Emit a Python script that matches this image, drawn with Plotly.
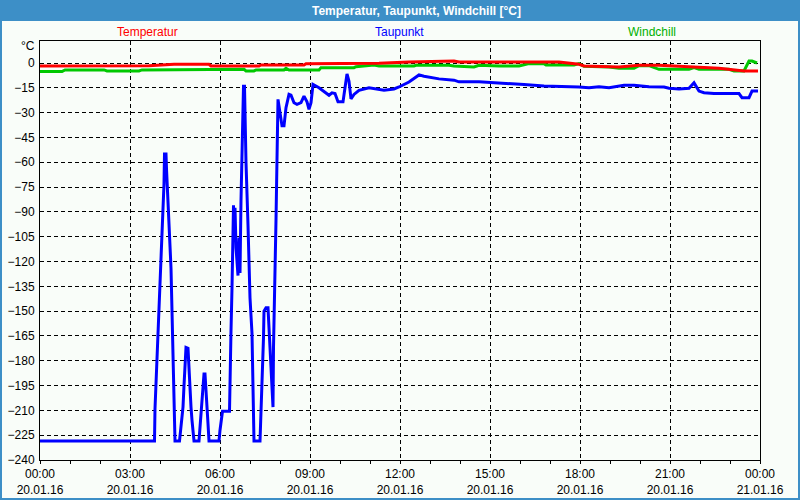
import pandas as pd
import plotly.graph_objects as go

# ---- data (minutes after 20.01.16 00:00, °C) ----
tau_min = [0, 229, 230, 234, 238, 241, 244, 246, 248, 249, 252, 253, 256, 258, 262, 264, 266, 268, 270,
           279, 282, 284, 286, 288, 290, 292, 296, 298, 300, 302, 304, 306, 308,
           318, 320, 322, 324, 326, 328, 330, 332, 334, 336, 338,
           358, 360, 362, 365, 379, 380, 382, 384, 386, 387, 388, 390, 392, 394, 396, 398, 400, 402, 404, 406, 407, 409,
           410, 412, 416, 420, 424, 426, 428,
           440, 442, 444, 446, 447, 448, 452, 456, 458, 460, 462, 464, 466, 467, 470, 472, 474, 476,
           480, 484, 488, 492, 498, 502, 508, 514, 522, 528, 534, 538, 542, 546, 558, 568, 578, 584, 590, 596, 606,
           610, 614, 618, 622, 628, 638, 658, 678, 688, 708, 718, 738, 758, 768, 798, 828, 838, 878, 918, 968,
           1008, 1038, 1078, 1098, 1118, 1138, 1168, 1188, 1218, 1248, 1258, 1278, 1298, 1308, 1318, 1328, 1348,
           1398, 1404, 1418, 1424, 1436]
tau_val = [-228.5, -228.5, -209, -178, -152.6, -127, -101, -82, -73, -55, -55, -64, -82, -98, -124, -150, -178, -202, -228.5,
           -228.5, -220, -214, -208, -195, -186, -172, -172.5, -186, -196, -208, -216, -222, -228.5,
           -228.5, -220, -212, -204, -196, -188, -188, -196, -208, -218, -228.5,
           -228.5, -222, -216, -210.5, -210.5, -186, -162, -136, -111.6, -86, -103, -87.5, -111.6, -119, -128.5, -105.5, -127, -83, -59, -37, -14, -14,
           -36, -60, -98, -142, -163.5, -205.6, -228.5,
           -228.5, -213, -198, -181.5, -166, -150, -148, -148, -160, -172, -184, -196, -208, -172, -133, -95, -58, -22,
           -30, -38, -38, -27, -19, -19.5, -24, -25, -24, -20, -23.5, -28, -24, -13, -15, -17, -19.5, -18, -18.5, -23.5, -23.5,
           -15, -6.6, -11, -21.7, -19, -16.5, -15, -15.7, -16.5, -15.7, -14.5, -11.5, -7.2, -8, -9.6, -10.4, -11.4, -11.4, -12, -13,
           -13.9, -14, -14.5, -14.9, -14.3, -14.9, -13.5, -13.5, -14.3, -14.5, -15.3, -15.7, -15.3, -12, -17, -18, -18.5,
           -18.5, -21, -21, -17, -17]

temp_min = [0, 218, 268, 338, 342, 438, 442, 528, 532, 678, 738, 828, 838, 1038, 1078, 1088, 1158, 1198, 1238,
            1298, 1358, 1408, 1436]
temp_val = [-1.8, -1.6, -0.8, -0.8, -1.8, -1.8, -1.2, -1.2, -0.4, -0.2, 0.6, 1.2, 0.6, 0.6, -0.8, -1.8, -2.4, -1.4, -1.4,
            -2.2, -3.2, -4.8, -4.8]

wind_min = [0, 44, 50, 128, 134, 198, 204, 368, 374, 408, 412, 428, 432, 488, 492, 498, 558, 562, 628, 632,
            668, 678, 748, 752, 818, 828, 868, 878, 918, 958, 978, 1008, 1012, 1068, 1078, 1088, 1138, 1158, 1188, 1198,
            1218, 1228, 1238, 1298, 1308, 1318, 1378, 1388, 1408, 1418, 1424, 1434]
wind_val = [-5.2, -5.2, -4.2, -4.2, -4.8, -4.8, -4.2, -4.2, -3.8, -3.8, -4.8, -4.8, -4.2, -4.2, -3.2, -4.2, -4.2, -2.8, -2.8, -2.2,
            -1.2, -1.8, -1.8, -1.4, -1.4, -1.8, -2.4, -1.4, -1.8, -1.8, -0.4, -0.4, -1.2, -1.2, -0.4, -2, -2.4, -3.2, -3.2, -1.6,
            -1.6, -2.8, -3.8, -3.8, -2.8, -3.8, -3.8, -4.8, -4.8, 1.2, 1.2, 0]

tick_hours = [0, 3, 6, 9, 12, 15, 18, 21, 24]
tick_labels = ["00:00<br>20.01.16", "03:00<br>20.01.16", "06:00<br>20.01.16", "09:00<br>20.01.16",
               "12:00<br>20.01.16", "15:00<br>20.01.16", "18:00<br>20.01.16", "21:00<br>20.01.16",
               "00:00<br>21.01.16"]
series_names = ["Temperatur", "Taupunkt", "Windchill"]
title_text = "Temperatur, Taupunkt, Windchill [°C]"

assert len(tau_min) == len(tau_val)
assert len(temp_min) == len(temp_val)
assert len(wind_min) == len(wind_val)

base = pd.Timestamp("2016-01-20 00:00")
def tt(m):
    return base + pd.to_timedelta(m, unit="m")

RED, BLUE, GREEN = "#FF0000", "#0000FF", "#00C800"
BAR = "#3D8FC7"
BG = "#F9FDF9"
FONT = "Liberation Sans"

fig = go.Figure()
fig.add_trace(go.Scatter(x=tt(tau_min), y=tau_val, mode="lines", line=dict(color=BLUE, width=3), name=series_names[1]))
fig.add_trace(go.Scatter(x=tt(wind_min), y=wind_val, mode="lines", line=dict(color=GREEN, width=3), name=series_names[2]))
fig.add_trace(go.Scatter(x=tt(temp_min), y=temp_val, mode="lines", line=dict(color=RED, width=3), name=series_names[0]))

L, R, T, B = 40, 40, 41, 40
W, H = 800, 500
pw, ph = W - L - R, H - T - B
def px(x):  # pixel -> paper x
    return (x - L) / pw
def py(y):  # pixel -> paper y
    return (H - B - y) / ph

fig.update_layout(
    width=W, height=H,
    margin=dict(l=L, r=R, t=T, b=B, autoexpand=False),
    paper_bgcolor=BG, plot_bgcolor=BG,
    showlegend=False,
    font=dict(family=FONT, size=11, color="black"),
    xaxis=dict(
        range=[base, tt(1440)],
        automargin=False,
        tickmode="array",
        tickvals=[tt(h * 60) for h in tick_hours],
        ticktext=tick_labels,
        ticks="outside", ticklen=3, tickcolor="black",
        showgrid=True, gridcolor="black", gridwidth=1, griddash="4px,3px",
        showline=True, linecolor="black", linewidth=1, mirror=True,
        zeroline=False,
        minor=dict(dtick=3600000, ticks="outside", ticklen=3, tickcolor="black", showgrid=False),
        tickfont=dict(size=12),
    ),
    yaxis=dict(
        range=[-240, 13.3],
        automargin=False,
        tickmode="linear", tick0=0, dtick=15,
        ticks="",
        showgrid=True, gridcolor="black", gridwidth=1, griddash="4px,3px",
        showline=True, linecolor="black", linewidth=1, mirror=True,
        zeroline=False,
        ticklabelstandoff=2,
        tickfont=dict(size=12),
    ),
    shapes=[
        dict(type="rect", xref="paper", yref="paper", x0=px(-2), x1=px(802), y0=py(21), y1=py(-2),
             fillcolor=BAR, line=dict(width=0), layer="above"),
        dict(type="rect", xref="paper", yref="paper", x0=px(1), x1=px(799), y0=py(499), y1=py(1),
             fillcolor="rgba(0,0,0,0)", line=dict(color=BAR, width=2), layer="above"),
    ],
    annotations=[
        dict(text="<b>" + title_text + "</b>", x=px(416), y=py(10.5), xref="paper", yref="paper",
             showarrow=False, font=dict(color="white", size=12, family=FONT), xanchor="center", yanchor="middle"),
        dict(text=series_names[0], x=px(147), y=py(32), xref="paper", yref="paper", showarrow=False,
             font=dict(color=RED, size=12), xanchor="center", yanchor="middle"),
        dict(text=series_names[1], x=px(399), y=py(32), xref="paper", yref="paper", showarrow=False,
             font=dict(color=BLUE, size=12), xanchor="center", yanchor="middle"),
        dict(text=series_names[2], x=px(652), y=py(32), xref="paper", yref="paper", showarrow=False,
             font=dict(color="#00B000", size=12), xanchor="center", yanchor="middle"),
        dict(text="°C", x=px(37), y=py(46), xref="paper", yref="paper", showarrow=False,
             font=dict(color="black", size=12), xanchor="right", yanchor="middle"),
    ],
)

fig.write_html("out.html")
